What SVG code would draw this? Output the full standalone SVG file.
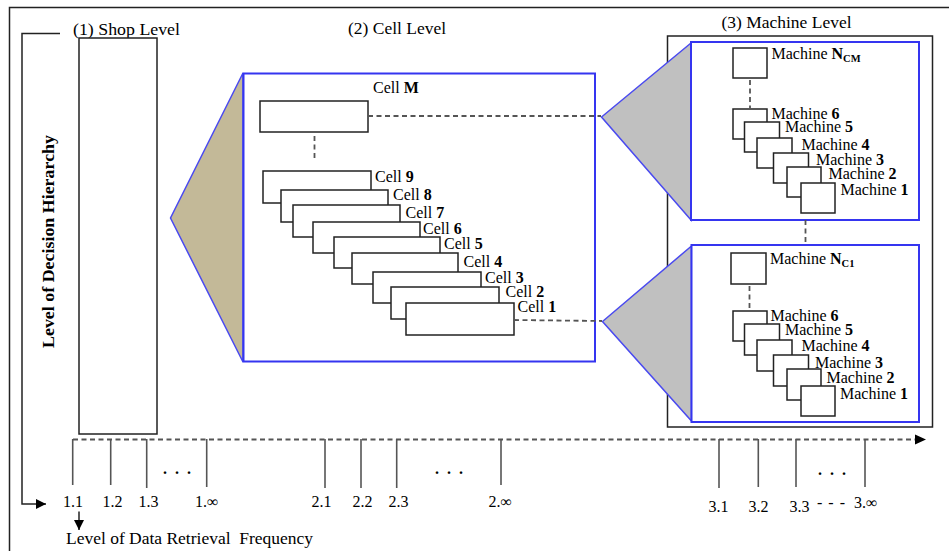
<svg xmlns="http://www.w3.org/2000/svg" width="949" height="551" viewBox="0 0 949 551">
  <style>
    text { font-family: "Liberation Serif", "Times New Roman", serif; fill: #000; }
    .lvl { font-size: 17px; }
    .lbl { font-size: 16px; }
    .ax { font-size: 16px; }
    .dots { font-size: 16px; font-weight: bold; letter-spacing: 8px; }
    .b { font-weight: bold; }
    .box { fill: #fff; stroke: #222; stroke-width: 1.5; }
    .blue { fill: #fff; stroke: #3535f0; stroke-width: 2; }
    .fan { stroke: #4a4af0; stroke-width: 1.5; }
    .dash { fill: none; stroke: #555; stroke-width: 1.8; stroke-dasharray: 5 3.5; }
    .tick { stroke: #555; stroke-width: 1.6; }
    .line { fill: none; stroke: #222; stroke-width: 1.5; }
  </style>
  <defs>
    <marker id="head" viewBox="0 0 10 10" refX="10" refY="5" markerWidth="10" markerHeight="10" markerUnits="userSpaceOnUse" orient="auto">
      <path d="M0,0 L10,5 L0,10 Z" fill="#000"/>
    </marker>
  </defs>

  <rect width="949" height="551" fill="#fff"/>

  <!-- page frame (top and left edges) -->
  <g id="frame">
    <path class="line" d="M9.5,551 V7.5 H949" stroke-width="2"/>
  </g>

  <!-- vertical axis label -->
  <g id="decision-axis">
    <text class="b" font-size="17.5" transform="translate(54,241.5) rotate(-90)" text-anchor="middle" textLength="213" lengthAdjust="spacingAndGlyphs">Level of Decision Hierarchy</text>
  </g>

  <!-- (1) shop level -->
  <g id="shop-level">
    <text class="lvl" x="73" y="35" textLength="107" lengthAdjust="spacingAndGlyphs">(1) Shop Level</text>
    <rect class="box" x="79" y="38" width="78" height="396"/>
  </g>

  <!-- (2) cell level -->
  <g id="cell-level">
    <text class="lvl" x="348" y="34" textLength="98" lengthAdjust="spacingAndGlyphs">(2) Cell Level</text>
    <polygon class="fan" points="243,73 170.5,218 243,362" fill="#c3b998"/>
    <rect class="blue" x="243.5" y="73.5" width="351.5" height="288"/>
  </g>

  <g id="cell-M">
    <rect class="box" x="260" y="101" width="108" height="31"/>
    <text class="lbl" x="373" y="93" font-size="17">Cell <tspan class="b">M</tspan></text>
  </g>

  <g id="cells">
    <g id="cell-9"><rect class="box" x="263" y="171" width="108" height="32"/><text class="lbl" x="375" y="182">Cell <tspan class="b">9</tspan></text></g>
    <g id="cell-8"><rect class="box" x="281" y="190" width="107" height="32"/><text class="lbl" x="393" y="200">Cell <tspan class="b">8</tspan></text></g>
    <g id="cell-7"><rect class="box" x="293" y="205" width="107" height="32"/><text class="lbl" x="405.5" y="218">Cell <tspan class="b">7</tspan></text></g>
    <g id="cell-6"><rect class="box" x="313" y="222" width="107" height="31"/><text class="lbl" x="423" y="234">Cell <tspan class="b">6</tspan></text></g>
    <g id="cell-5"><rect class="box" x="334" y="237" width="106" height="31"/><text class="lbl" x="444" y="249">Cell <tspan class="b">5</tspan></text></g>
    <g id="cell-4"><rect class="box" x="352" y="253" width="106" height="31"/><text class="lbl" x="463.5" y="267">Cell <tspan class="b">4</tspan></text></g>
    <g id="cell-3"><rect class="box" x="373" y="272" width="108" height="31"/><text class="lbl" x="485" y="283">Cell <tspan class="b">3</tspan></text></g>
    <g id="cell-2"><rect class="box" x="391" y="287" width="108" height="32"/><text class="lbl" x="505.5" y="297">Cell <tspan class="b">2</tspan></text></g>
    <g id="cell-1"><rect class="box" x="406" y="303" width="108" height="32"/><text class="lbl" x="517.5" y="312">Cell <tspan class="b">1</tspan></text></g>
  </g>

  <!-- (3) machine level -->
  <g id="machine-level">
    <text class="lvl" x="721.5" y="28" textLength="130" lengthAdjust="spacingAndGlyphs">(3) Machine Level</text>
    <rect class="box" x="667.5" y="36" width="265" height="391" stroke-width="1.8"/>
  </g>

  <!-- machines of cell M -->
  <g id="machines-cell-M">
    <polygon class="fan" points="691,43 601.5,117 691,220" fill="#c0c0c0"/>
    <rect class="blue" x="691" y="42" width="228" height="178"/>
    <g id="m-CM-N"><rect class="box" x="733" y="48" width="34" height="30"/><text class="lbl" x="771.5" y="58.5">Machine <tspan class="b">N</tspan><tspan class="b" font-size="10.5" dy="3">CM</tspan></text></g>
    <g id="m-CM-6"><rect class="box" x="733" y="109" width="34" height="30"/><text class="lbl" x="771.5" y="118.5">Machine <tspan class="b">6</tspan></text></g>
    <g id="m-CM-5"><rect class="box" x="744.5" y="122" width="35" height="30"/><text class="lbl" x="785" y="132">Machine <tspan class="b">5</tspan></text></g>
    <g id="m-CM-4"><rect class="box" x="757" y="138" width="35" height="30"/><text class="lbl" x="801.5" y="149.5">Machine <tspan class="b">4</tspan></text></g>
    <g id="m-CM-3"><rect class="box" x="773.5" y="153" width="35" height="30"/><text class="lbl" x="816" y="164.5">Machine <tspan class="b">3</tspan></text></g>
    <g id="m-CM-2"><rect class="box" x="787" y="167" width="34" height="30"/><text class="lbl" x="828.5" y="178.5">Machine <tspan class="b">2</tspan></text></g>
    <g id="m-CM-1"><rect class="box" x="801" y="183" width="34" height="30"/><text class="lbl" x="840.5" y="194.5">Machine <tspan class="b">1</tspan></text></g>
  </g>

  <!-- machines of cell 1 -->
  <g id="machines-cell-1">
    <polygon class="fan" points="691.5,246 602.5,321.5 691.5,421" fill="#c0c0c0"/>
    <rect class="blue" x="691.5" y="245" width="227.5" height="177"/>
    <g id="m-C1-N"><rect class="box" x="731" y="253" width="35" height="31"/><text class="lbl" x="770" y="264">Machine <tspan class="b">N</tspan><tspan class="b" font-size="10.5" dy="3">C1</tspan></text></g>
    <g id="m-C1-6"><rect class="box" x="733" y="311" width="34" height="30"/><text class="lbl" x="770.5" y="321">Machine <tspan class="b">6</tspan></text></g>
    <g id="m-C1-5"><rect class="box" x="744.5" y="324" width="35" height="31"/><text class="lbl" x="785" y="334.5">Machine <tspan class="b">5</tspan></text></g>
    <g id="m-C1-4"><rect class="box" x="757" y="340" width="35" height="31"/><text class="lbl" x="801.5" y="351">Machine <tspan class="b">4</tspan></text></g>
    <g id="m-C1-3"><rect class="box" x="773.5" y="355" width="35" height="31"/><text class="lbl" x="815" y="368">Machine <tspan class="b">3</tspan></text></g>
    <g id="m-C1-2"><rect class="box" x="787" y="369" width="34" height="31"/><text class="lbl" x="826.5" y="382.5">Machine <tspan class="b">2</tspan></text></g>
    <g id="m-C1-1"><rect class="box" x="801" y="386" width="34" height="30"/><text class="lbl" x="840" y="399">Machine <tspan class="b">1</tspan></text></g>
  </g>

  <!-- connectors -->
  <g id="connectors">
    <!-- hierarchy bracket and arrow into the frequency axis -->
    <path class="line" d="M60,33.5 H22 V504 H46" marker-end="url(#head)"/>
    <!-- dashed links between levels -->
    <line class="dash" x1="314.5" y1="136" x2="314.5" y2="161"/>
    <line class="dash" x1="368" y1="116" x2="601" y2="116"/>
    <line class="dash" x1="514" y1="320" x2="602" y2="321"/>
    <line class="dash" x1="750" y1="80" x2="750" y2="108"/>
    <line class="dash" x1="805.5" y1="220" x2="805.5" y2="245"/>
    <line class="dash" x1="749.5" y1="286" x2="749.5" y2="311"/>
    <!-- data retrieval frequency axis -->
    <line class="dash" x1="73" y1="439.5" x2="917" y2="439.5"/>
    <polygon points="915,434.5 926,439.5 915,444.5" fill="#000"/>
    <line class="tick" x1="72.7" y1="439" x2="72.7" y2="485"/>
    <line class="tick" x1="110.7" y1="439" x2="110.7" y2="485"/>
    <line class="tick" x1="146.7" y1="439" x2="146.7" y2="488"/>
    <line class="tick" x1="206.7" y1="439" x2="206.7" y2="487"/>
    <line class="tick" x1="325" y1="439" x2="325" y2="488"/>
    <line class="tick" x1="361" y1="439" x2="361" y2="488"/>
    <line class="tick" x1="396.7" y1="439" x2="396.7" y2="488"/>
    <line class="tick" x1="501" y1="439" x2="501" y2="485"/>
    <line class="tick" x1="719" y1="439" x2="719" y2="488"/>
    <line class="tick" x1="758.3" y1="439" x2="758.3" y2="487"/>
    <line class="tick" x1="796" y1="439" x2="796" y2="487"/>
    <line class="tick" x1="865" y1="439" x2="865" y2="487"/>
    <!-- arrow to the axis title -->
    <line class="line" x1="79" y1="511.5" x2="79" y2="530" marker-end="url(#head)"/>
  </g>

  <!-- frequency axis labels -->
  <g id="frequency-labels">
    <text class="dots" x="163" y="474">...</text>
    <text class="dots" x="435" y="474">...</text>
    <text class="dots" x="818" y="475">...</text>
    <text class="ax" x="63" y="507">1.1</text>
    <text class="ax" x="102.5" y="507">1.2</text>
    <text class="ax" x="138.5" y="507">1.3</text>
    <text class="ax" x="195" y="507">1.∞</text>
    <text class="ax" x="311.5" y="507">2.1</text>
    <text class="ax" x="352.5" y="507">2.2</text>
    <text class="ax" x="388.5" y="507">2.3</text>
    <text class="ax" x="488.5" y="506.5">2.∞</text>
    <text class="ax" x="708.5" y="511.5">3.1</text>
    <text class="ax" x="748.5" y="511.5">3.2</text>
    <text class="ax" x="789.5" y="511.5">3.3</text>
    <text class="ax" x="817" y="508" letter-spacing="1">- - -</text>
    <text class="ax" x="854" y="508">3.∞</text>
    <text class="ax" x="66" y="544" xml:space="preserve" textLength="247" lengthAdjust="spacingAndGlyphs">Level of Data Retrieval  Frequency</text>
  </g>
</svg>
